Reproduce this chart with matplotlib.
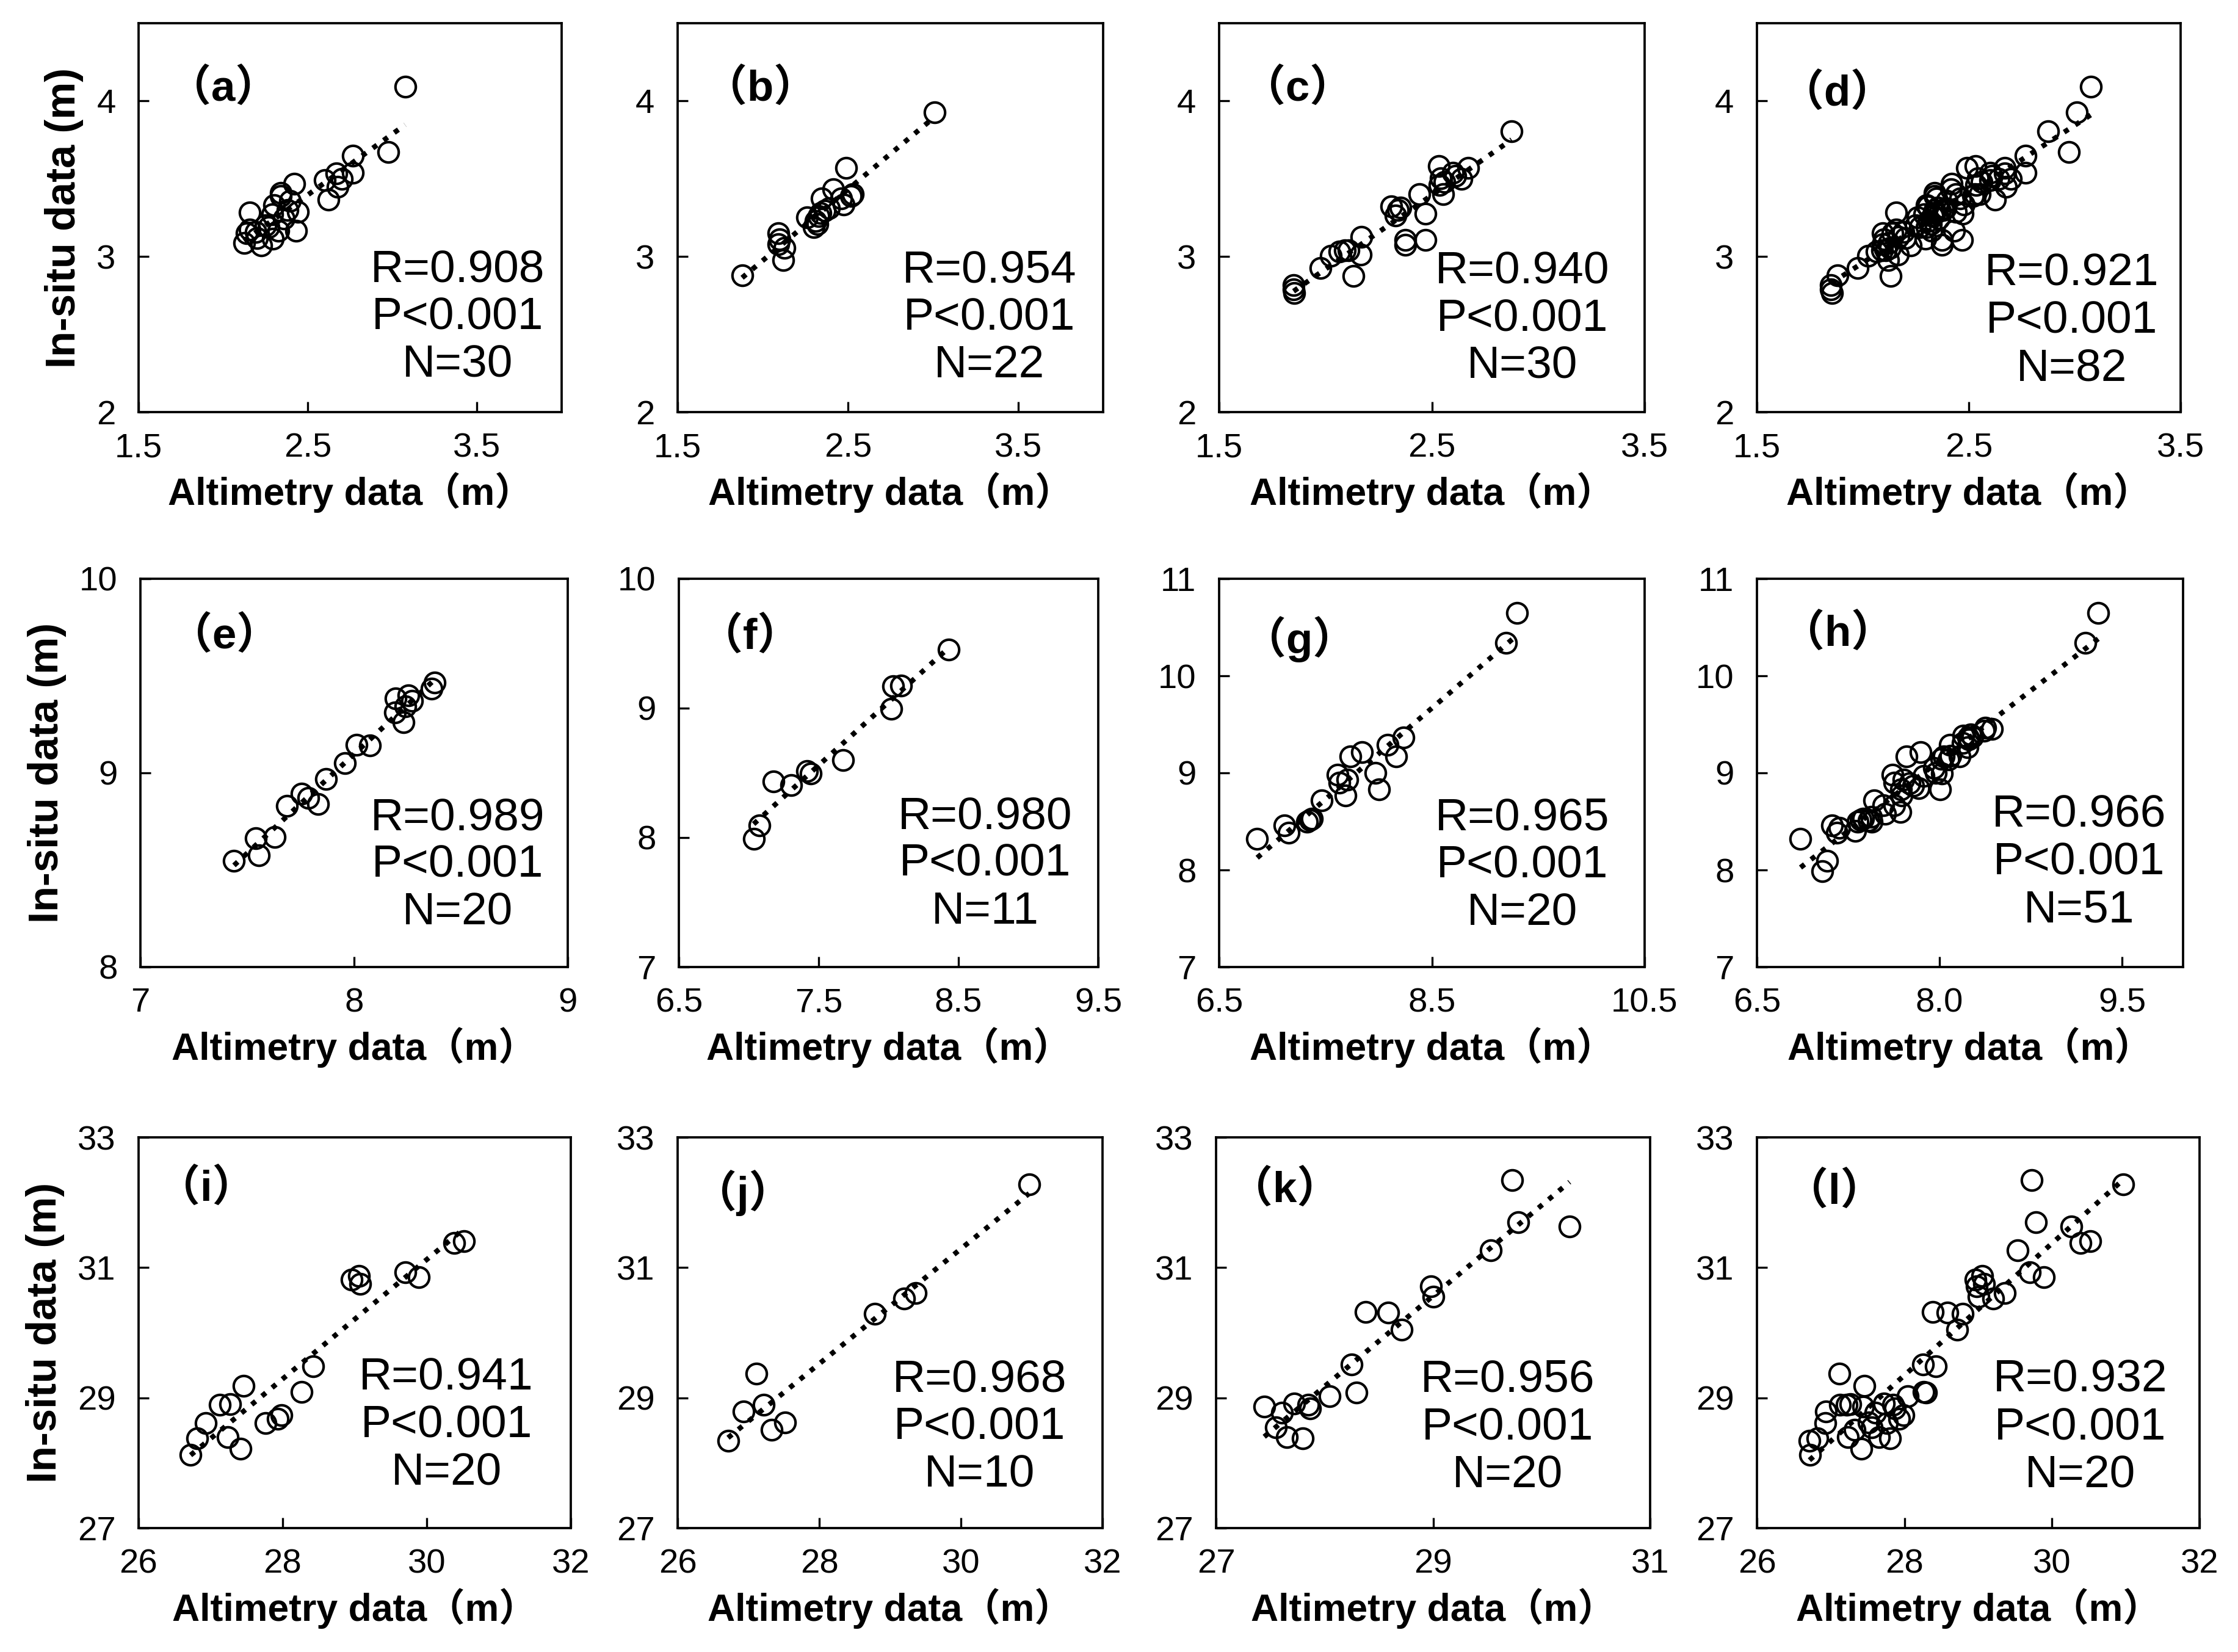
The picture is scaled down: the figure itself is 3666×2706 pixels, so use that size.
import numpy as np
import matplotlib
matplotlib.use('Agg')
import matplotlib.pyplot as plt

plt.rcParams['font.family'] = ['Liberation Sans', 'Noto Sans CJK SC', 'DejaVu Sans']

# ---------------- data ----------------
a_x = [3.075, 2.974, 2.768, 2.768, 2.670, 2.677, 2.623, 2.600, 2.420, 2.395, 2.340, 2.300, 2.440, 2.360, 2.430,
       2.158, 2.270, 2.193, 2.123, 2.225, 2.295, 2.158, 2.325, 2.290, 2.340, 2.700, 2.200, 2.250, 2.380, 2.140]
a_y = [4.090, 3.671, 3.650, 3.540, 3.536, 3.450, 3.364, 3.490, 3.467, 3.356, 3.390, 3.330, 3.287, 3.244, 3.167,
       3.284, 3.190, 3.158, 3.089, 3.072, 3.115, 3.175, 3.167, 3.270, 3.410, 3.500, 3.120, 3.200, 3.300, 3.150]

b_x = [3.010, 1.879, 2.490, 2.416, 2.520, 2.477, 2.346, 2.364, 2.259, 2.320, 2.300, 2.330, 2.093, 2.093, 2.128,
       2.120, 2.460, 2.390, 2.310, 2.100, 2.530, 2.340]
b_y = [3.928, 2.878, 3.570, 3.433, 3.390, 3.335, 3.373, 3.296, 3.253, 3.210, 3.190, 3.260, 3.150, 3.080, 3.055,
       2.978, 3.373, 3.310, 3.230, 3.110, 3.400, 3.280]

c_x = [2.875, 2.670, 2.532, 2.542, 2.610, 2.535, 2.552, 2.440, 2.308, 2.353, 2.470, 2.330, 2.374, 2.469, 2.374,
       2.170, 2.167, 2.108, 2.066, 2.024, 1.976, 2.130, 1.850, 1.850, 1.854, 2.090, 2.640, 2.600, 2.340, 2.560]
c_y = [3.806, 3.571, 3.583, 3.503, 3.520, 3.460, 3.400, 3.400, 3.322, 3.314, 3.274, 3.262, 3.108, 3.108, 3.074,
       3.125, 3.014, 3.040, 3.031, 3.005, 2.928, 2.877, 2.816, 2.790, 2.765, 3.040, 3.500, 3.540, 3.300, 3.480]

e_x = [8.376, 8.363, 8.193, 8.255, 8.241, 8.190, 8.232, 8.012, 8.074, 7.956, 7.868, 7.754, 7.786, 7.831, 7.685,
       7.629, 7.539, 7.553, 7.438, 8.270]
e_y = [9.465, 9.433, 9.385, 9.399, 9.344, 9.310, 9.262, 9.145, 9.141, 9.049, 8.967, 8.892, 8.871, 8.840, 8.830,
       8.669, 8.665, 8.576, 8.546, 9.370]

f_x = [8.430, 8.090, 8.033, 8.020, 7.676, 7.443, 7.417, 7.305, 7.177, 7.077, 7.035]
f_y = [9.451, 9.174, 9.168, 8.994, 8.600, 8.496, 8.512, 8.404, 8.434, 8.096, 7.990]

g_x = [9.303, 9.199, 8.234, 8.086, 8.164, 7.843, 7.731, 7.969, 8.005, 7.613, 7.703, 7.689, 7.465, 7.353, 7.325,
       7.115, 7.157, 6.858, 7.630, 7.370]
g_y = [10.647, 10.338, 9.367, 9.290, 9.170, 9.211, 9.170, 8.997, 8.833, 8.984, 8.929, 8.765, 8.718, 8.518, 8.497,
       8.458, 8.382, 8.321, 8.900, 8.530]

i_x = [30.515, 30.383, 29.056, 28.961, 29.076, 29.703, 29.889, 28.425, 28.260, 27.984, 27.930, 27.765, 27.456,
       27.270, 27.126, 26.928, 27.237, 27.414, 26.816, 26.722]
i_y = [31.409, 31.380, 30.869, 30.820, 30.746, 30.930, 30.849, 29.487, 29.090, 28.734, 28.681, 28.611, 29.180,
       28.906, 28.898, 28.611, 28.395, 28.219, 28.374, 28.129]

j_x = [30.964, 29.364, 29.200, 28.787, 27.116, 27.217, 26.935, 27.516, 27.326, 26.712]
j_y = [32.277, 30.614, 30.528, 30.294, 29.370, 28.897, 28.786, 28.622, 28.507, 28.343]

k_x = [29.726, 29.786, 30.258, 29.534, 28.978, 29.005, 28.381, 28.586, 28.712, 28.247, 28.293, 28.047, 27.849,
       27.718, 27.444, 27.608, 27.553, 27.655, 27.800, 27.868]
k_y = [32.340, 31.697, 31.635, 31.261, 30.710, 30.556, 30.320, 30.307, 30.046, 29.510, 29.083, 29.021, 28.896,
       28.917, 28.867, 28.772, 28.544, 28.398, 28.378, 28.834]

# the last panel of each row pools the three before it
d_x = a_x + b_x + c_x
d_y = a_y + b_y + c_y
h_x = e_x + f_x + g_x
h_y = e_y + f_y + g_y
l_x = i_x + j_x + k_x
l_y = i_y + j_y + k_y

letters = ['a', 'b', 'c', 'd', 'e', 'f', 'g', 'h', 'i', 'j', 'k', 'l']
xs_all = [a_x, b_x, c_x, d_x, e_x, f_x, g_x, h_x, i_x, j_x, k_x, l_x]
ys_all = [a_y, b_y, c_y, d_y, e_y, f_y, g_y, h_y, i_y, j_y, k_y, l_y]
r_vals = ['0.908', '0.954', '0.940', '0.921', '0.989', '0.980', '0.965', '0.966', '0.941', '0.968', '0.956', '0.932']
n_vals = [30, 22, 30, 82, 20, 11, 20, 51, 20, 10, 20, 20]

xlims = [(1.5, 4.0), (1.5, 4.0), (1.5, 3.5), (1.5, 3.5),
         (7, 9), (6.5, 9.5), (6.5, 10.5), (6.5, 10.0),
         (26, 32), (26, 32), (27, 31), (26, 32)]
ylims = [(2, 4.5)] * 4 + [(8, 10), (7, 10), (7, 11), (7, 11)] + [(27, 33)] * 4
xticks = [[1.5, 2.5, 3.5]] * 4 + [[7, 8, 9], [6.5, 7.5, 8.5, 9.5], [6.5, 8.5, 10.5], [6.5, 8.0, 9.5]] + \
         [[26, 28, 30, 32], [26, 28, 30, 32], [27, 29, 31], [26, 28, 30, 32]]
xtick_labels = [['1.5', '2.5', '3.5']] * 4 + [['7', '8', '9'], ['6.5', '7.5', '8.5', '9.5'],
                                              ['6.5', '8.5', '10.5'], ['6.5', '8.0', '9.5']] + \
               [['26', '28', '30', '32'], ['26', '28', '30', '32'], ['27', '29', '31'], ['26', '28', '30', '32']]
yticks = [[2, 3, 4]] * 4 + [[8, 9, 10], [7, 8, 9, 10], [7, 8, 9, 10, 11], [7, 8, 9, 10, 11]] + [[27, 29, 31, 33]] * 4

# ---------------- layout (pixels in the 3666 x 2706 canvas) ----------------
W, H = 3666, 2706
row_tb = [(38, 675), (948, 1584), (1863, 2503)]
col_lr = [[(227, 920), (1110, 1807), (1997, 2694), (2878, 3572)],
          [(230, 930), (1112, 1799), (1997, 2694), (2878, 3576)],
          [(227, 935), (1110, 1806), (1992, 2703), (2878, 3603)]]
label_pos = [(0.200, 0.830), (0.195, 0.830), (0.185, 0.830), (0.190, 0.818),
             (0.196, 0.850), (0.170, 0.849), (0.189, 0.845), (0.190, 0.857),
             (0.157, 0.868), (0.153, 0.857), (0.158, 0.864), (0.175, 0.860)]
stat_pos = [(0.754, 0.365), (0.733, 0.364), (0.713, 0.361), (0.743, 0.356),
            (0.742, 0.384), (0.730, 0.387), (0.713, 0.383), (0.756, 0.391),
            (0.712, 0.385), (0.710, 0.380), (0.672, 0.379), (0.730, 0.379)]

fig = plt.figure(figsize=(W / 300, H / 300), dpi=300)

for k in range(12):
    r, c = divmod(k, 4)
    top, bot = row_tb[r]
    left, right = col_lr[r][c]
    ax = fig.add_axes([left / W, 1 - bot / H, (right - left) / W, (bot - top) / H])

    x = np.array(xs_all[k])
    y = np.array(ys_all[k])
    ax.plot(x, y, 'o', mfc='none', mec='black', ms=8, mew=1.0, zorder=3)
    slope, icpt = np.polyfit(x, y, 1)
    xl = np.array([x.min(), x.max()])
    ax.plot(xl, slope * xl + icpt, color='black', ls=(0, (1, 1.6)), lw=2.0, zorder=2)

    ax.set_xlim(xlims[k])
    ax.set_ylim(ylims[k])
    ax.set_xticks(xticks[k])
    ax.set_xticklabels(xtick_labels[k])
    ax.set_yticks(yticks[k])
    ax.tick_params(direction='in', length=4, width=0.8, labelsize=13.5)
    ax.tick_params(axis='x', pad=8)
    ax.tick_params(axis='y', pad=9)
    for sp in ax.spines.values():
        sp.set_linewidth(0.9)

    ax.set_xlabel('Altimetry data\uff08m\uff09', fontsize=15, fontweight='bold', labelpad=3)
    if c == 0:
        ax.set_ylabel('In-situ data (m)', fontsize=16.5, fontweight='bold', labelpad=5)

    lx, ly = label_pos[k]
    ax.text(lx, ly, '\uff08%s\uff09' % letters[k], transform=ax.transAxes, ha='center', va='center',
            fontsize=17, fontweight='bold')
    sx, sy = stat_pos[k]
    for m, line in enumerate(['R=' + r_vals[k], 'P<0.001', 'N=%d' % n_vals[k]]):
        ax.text(sx, sy - 0.122 * m, line, transform=ax.transAxes, ha='center', va='center', fontsize=18)

fig.savefig('out.png', dpi=300)
